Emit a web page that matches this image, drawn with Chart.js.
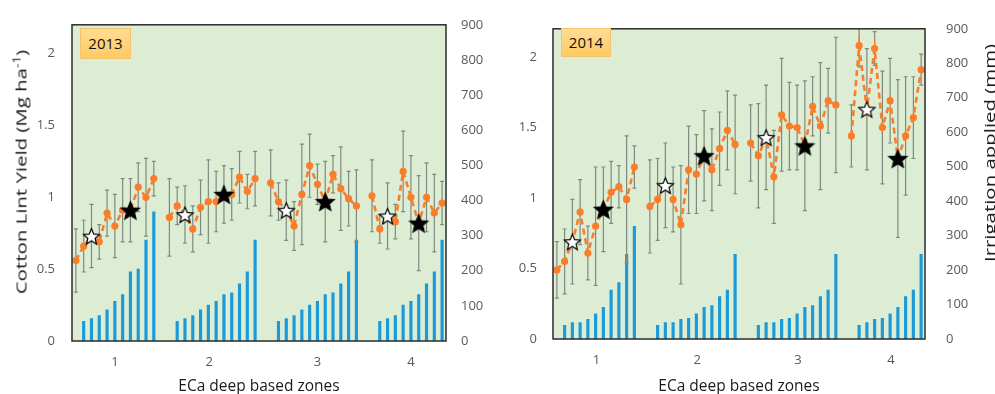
<!DOCTYPE html>
<html>
<head>
<meta charset="utf-8">
<script src="https://cdn.jsdelivr.net/npm/chart.js@4.4.0/dist/chart.umd.min.js"></script>
<style>
  body { margin: 0; background: #fff; }
  #wrap { position: relative; width: 995px; height: 394px; overflow: hidden; font-family: "Open Sans", sans-serif; }
  canvas { position: absolute; top: 0; }
  .ytitle { position: absolute; white-space: nowrap; font-size: 15px; color: #1a1a1a;
            transform: translate(-50%, -50%) rotate(-90deg) scaleX(1.36); }
  .yearbox { position: absolute; box-sizing: border-box; border: 1px solid #f3c46c;
             background: linear-gradient(#ffdc94, #ffca62); color: #111; font-size: 15px;
             text-align: center; }
</style>
</head>
<body>
<div id="wrap">
  <canvas id="chart2013" width="497" height="394" style="left:0"></canvas>
  <canvas id="chart2014" width="498" height="394" style="left:497px"></canvas>
  <div class="yearbox" style="left:80px; top:28px; width:51px; height:31px; line-height:29px;">2013</div>
  <div class="yearbox" style="left:561px; top:28px; width:50px; height:29px; line-height:27px;">2014</div>
  <div class="ytitle" style="left:20px; top:172px;">Cotton Lint Yield (Mg ha<sup style="font-size:10px">-1</sup>)</div>
  <div class="ytitle" style="left:989px; top:153px;">Irrigation applied (mm)</div>
</div>
<script>
// ---- Data ----
// x positions 0..47 are the plots along each panel; null = gap between zones
const zoneLabels = ["1", "2", "3", "4"];
const yieldTicks = [0, 0.5, 1, 1.5, 2];

// 2013
const zoneTickPos2013 = [5, 17.1, 31, 43];
const yield2013 = [
    0.56, 0.66, 0.73, 0.69, 0.89, 0.80, 0.91, 0.91, 1.07, 1.00, 1.13, null,
    0.86, 0.94, 0.88, 0.78, 0.93, 0.97, 0.97, 1.02, 1.02, 1.14, 1.04, 1.13, null,
    1.10, 0.97, 0.91, 0.80, 1.02, 1.22, 1.09, 0.97, 1.16, 1.06, 0.99, 0.94, null,
    1.01, 0.78, 0.87, 0.83, 1.18, 1.00, 0.82, 1.00, 0.89, 0.96
];
const yieldErr2013 = [
    0.22, 0.18, 0.22, 0.12, 0.16, 0.22, 0.22, 0.22, 0.17, 0.27, 0.12, null,
    0.27, 0.13, 0.20, 0.16, 0.19, 0.29, 0.21, 0.20, 0.18, 0.18, 0.12, 0.19, null,
    0.23, 0.13, 0.21, 0.17, 0.35, 0.22, 0.14, 0.28, 0.13, 0.29, 0.19, 0.25, null,
    0.25, 0.10, 0.23, 0.12, 0.28, 0.29, 0.33, 0.24, 0.27, 0.15
];
const irrigation2013 = [
    null, 56, 64, 72, 89, 113, 132, 197, 205, 287, 368, null,
    null, 56, 64, 72, 89, 102, 113, 132, 137, 163, 197, 287, null,
    null, 56, 64, 72, 89, 102, 113, 132, 137, 163, 197, 287, null,
    null, 56, 64, 72, 102, 113, 132, 163, 197, 287
];
const whiteStars2013 = [2, 14, 27, 40];
const blackStars2013 = [7, 19, 32, 44];

// 2014
const zoneTickPos2014 = [5.1, 18.1, 31.1, 43.1];
const yield2014 = [
    0.49, 0.55, 0.69, 0.90, 0.61, 0.80, 0.92, 1.04, 1.08, 0.99, 1.22, null,
    0.94, 0.99, 1.09, 0.99, 0.81, 1.20, 1.17, 1.30, 1.20, 1.35, 1.48, 1.38, null,
    1.39, 1.30, 1.43, 1.15, 1.59, 1.51, 1.50, 1.37, 1.65, 1.51, 1.69, 1.66, null,
    1.44, 2.08, 1.63, 2.06, 1.50, 1.69, 1.28, 1.44, 1.57, 1.91
];
const yieldErr2014 = [
    0.20, 0.23, 0.30, 0.23, 0.19, 0.42, 0.30, 0.22, 0.15, 0.45, 0.15, null,
    0.33, 0.29, 0.30, 0.23, 0.42, 0.31, 0.28, 0.32, 0.29, 0.26, 0.28, 0.35, null,
    0.27, 0.37, 0.37, 0.33, 0.40, 0.31, 0.30, 0.46, 0.21, 0.45, 0.23, 0.48, null,
    0.22, 0.15, 0.43, 0.12, 0.40, 0.30, 0.56, 0.42, 0.29, 0.11
];
const irrigation2014 = [
    null, 40, 48, 48, 57, 73, 92, 142, 164, 246, 327, null,
    null, 40, 48, 48, 57, 60, 73, 92, 97, 123, 142, 246, null,
    null, 40, 48, 48, 57, 60, 73, 92, 97, 123, 142, 246, null,
    null, 40, 48, 57, 60, 73, 92, 123, 142, 246
];
const whiteStars2014 = [2, 14, 27, 40];
const blackStars2014 = [6, 19, 32, 44];

// ---- Styles ----
const ORANGE = "#fb7d2a";
const BLUE = "#1a9ad8";
const PLOT_BG = "#dcedd4";
const TICK_COLOR = "#595959";
const FONT = "'Open Sans', sans-serif";

// five-point star images for the point style
function makeStar(fill, r) {
    const size = Math.ceil(r * 2 + 4);
    const c = document.createElement("canvas");
    c.width = size;
    c.height = size;
    const g = c.getContext("2d");
    g.beginPath();
    for (let k = 0; k < 10; k++) {
        const rad = k % 2 ? r * 0.45 : r;
        const a = -Math.PI / 2 + k * Math.PI / 5;
        g.lineTo(size / 2 + rad * Math.cos(a), size / 2 + 1 + rad * Math.sin(a));
    }
    g.closePath();
    g.fillStyle = fill;
    g.fill();
    g.lineWidth = 1.2;
    g.strokeStyle = "#000";
    g.stroke();
    return c;
}
const whiteStar = makeStar("#fff", 8.5);
const blackStar = makeStar("#000", 9.5);

function makeChart(canvasId, d) {
    const ctx = document.getElementById(canvasId).getContext("2d");
    const linePts = d.yield.map((v, i) => ({ x: i, y: v }));
    const barPts = d.irrigation.map((v, i) => ({ x: i, y: v })).filter(p => p.y !== null);
    const starPts = pos => pos.map(i => ({ x: i, y: d.yield[i] }));

    // green plot area + frame
    const framePlugin = {
        id: "frame",
        beforeDatasetsDraw(chart) {
            const a = chart.chartArea, c = chart.ctx;
            c.save();
            c.fillStyle = PLOT_BG;
            c.fillRect(a.left, a.top, a.right - a.left, a.bottom - a.top);
            c.restore();
        },
        afterDraw(chart) {
            const a = chart.chartArea, c = chart.ctx;
            c.save();
            c.strokeStyle = "#2b2b2b";
            c.lineWidth = 1.5;
            c.strokeRect(a.left, a.top, a.right - a.left, a.bottom - a.top);
            c.restore();
        }
    };

    // error bars drawn after the irrigation bars, under the yield line
    const errorBarPlugin = {
        id: "errorBars",
        afterDatasetDraw(chart, args) {
            if (args.index !== 3) return;
            const a = chart.chartArea, c = chart.ctx;
            const xs = chart.scales.x, ys = chart.scales.y;
            c.save();
            c.beginPath();
            c.rect(a.left, a.top, a.right - a.left, a.bottom - a.top);
            c.clip();
            c.strokeStyle = "#7f897f";
            c.lineWidth = 1.2;
            d.yield.forEach((v, i) => {
                if (v === null) return;
                const e = d.err[i];
                const x = xs.getPixelForValue(i);
                const yt = ys.getPixelForValue(v + e);
                const yb = ys.getPixelForValue(v - e);
                c.beginPath();
                c.moveTo(x, yt); c.lineTo(x, yb);
                c.moveTo(x - 2, yt); c.lineTo(x + 2, yt);
                c.moveTo(x - 2, yb); c.lineTo(x + 2, yb);
                c.stroke();
            });
            c.restore();
        }
    };

    const tickFont = { family: FONT, size: 13 };

    return new Chart(ctx, {
        type: "bar",
        data: {
            datasets: [
                { type: "line", data: starPts(d.whiteStars), showLine: false, pointStyle: whiteStar, pointRadius: 5, yAxisID: "y", order: 0 },
                { type: "line", data: starPts(d.blackStars), showLine: false, pointStyle: blackStar, pointRadius: 5, yAxisID: "y", order: 1 },
                {
                    type: "line", data: linePts, yAxisID: "y", order: 2,
                    borderColor: ORANGE, borderWidth: 2.6, borderDash: [6, 4],
                    pointRadius: 3.6, pointBackgroundColor: ORANGE, pointBorderWidth: 0,
                    spanGaps: false, tension: 0
                },
                { type: "bar", data: barPts, yAxisID: "y1", order: 3, backgroundColor: BLUE, barThickness: 2.5 }
            ]
        },
        options: {
            responsive: false,
            animation: false,
            layout: { padding: { top: 21, left: 0, right: 0, bottom: 0 } },
            plugins: { legend: { display: false }, tooltip: { enabled: false } },
            scales: {
                x: {
                    type: "linear", min: -0.5, max: 47.5, offset: false,
                    grid: { display: false, drawTicks: false },
                    border: { display: false },
                    afterBuildTicks: s => { s.ticks = d.zoneTickPos.map(v => ({ value: v })); },
                    ticks: { padding: 13, color: TICK_COLOR, font: tickFont, autoSkip: false, maxRotation: 0,
                             callback: (v, i) => zoneLabels[i] },
                    title: { display: true, text: "ECa deep based zones", color: "#1a1a1a",
                             font: { family: FONT, size: 15.5, lineHeight: 1 }, padding: 0 },
                    afterFit: s => { s.height = d.xHeight; }
                },
                y: {
                    position: "left", min: 0, max: 2.2,
                    grid: { display: false, drawTicks: false },
                    border: { display: false },
                    afterBuildTicks: s => { s.ticks = yieldTicks.map(v => ({ value: v })); },
                    ticks: { padding: d.leftPad, color: TICK_COLOR, font: tickFont, callback: v => String(v) },
                    afterFit: s => { s.width = d.leftWidth; }
                },
                y1: {
                    position: "right", min: 0, max: 900,
                    grid: { display: false, drawTicks: false },
                    border: { display: false },
                    ticks: { stepSize: 100, padding: d.rightPad, color: TICK_COLOR, font: tickFont },
                    afterFit: s => { s.width = d.rightWidth; }
                }
            }
        },
        plugins: [framePlugin, errorBarPlugin]
    });
}

makeChart("chart2013", {
    yield: yield2013, err: yieldErr2013, irrigation: irrigation2013,
    whiteStars: whiteStars2013, blackStars: blackStars2013, zoneTickPos: zoneTickPos2013,
    leftWidth: 72, rightWidth: 51, leftPad: 17, rightPad: 15, xHeight: 53
});
makeChart("chart2014", {
    yield: yield2014, err: yieldErr2014, irrigation: irrigation2014,
    whiteStars: whiteStars2014, blackStars: blackStars2014, zoneTickPos: zoneTickPos2014,
    leftWidth: 56, rightWidth: 70, leftPad: 16, rightPad: 21, xHeight: 55
});
</script>
</body>
</html>
